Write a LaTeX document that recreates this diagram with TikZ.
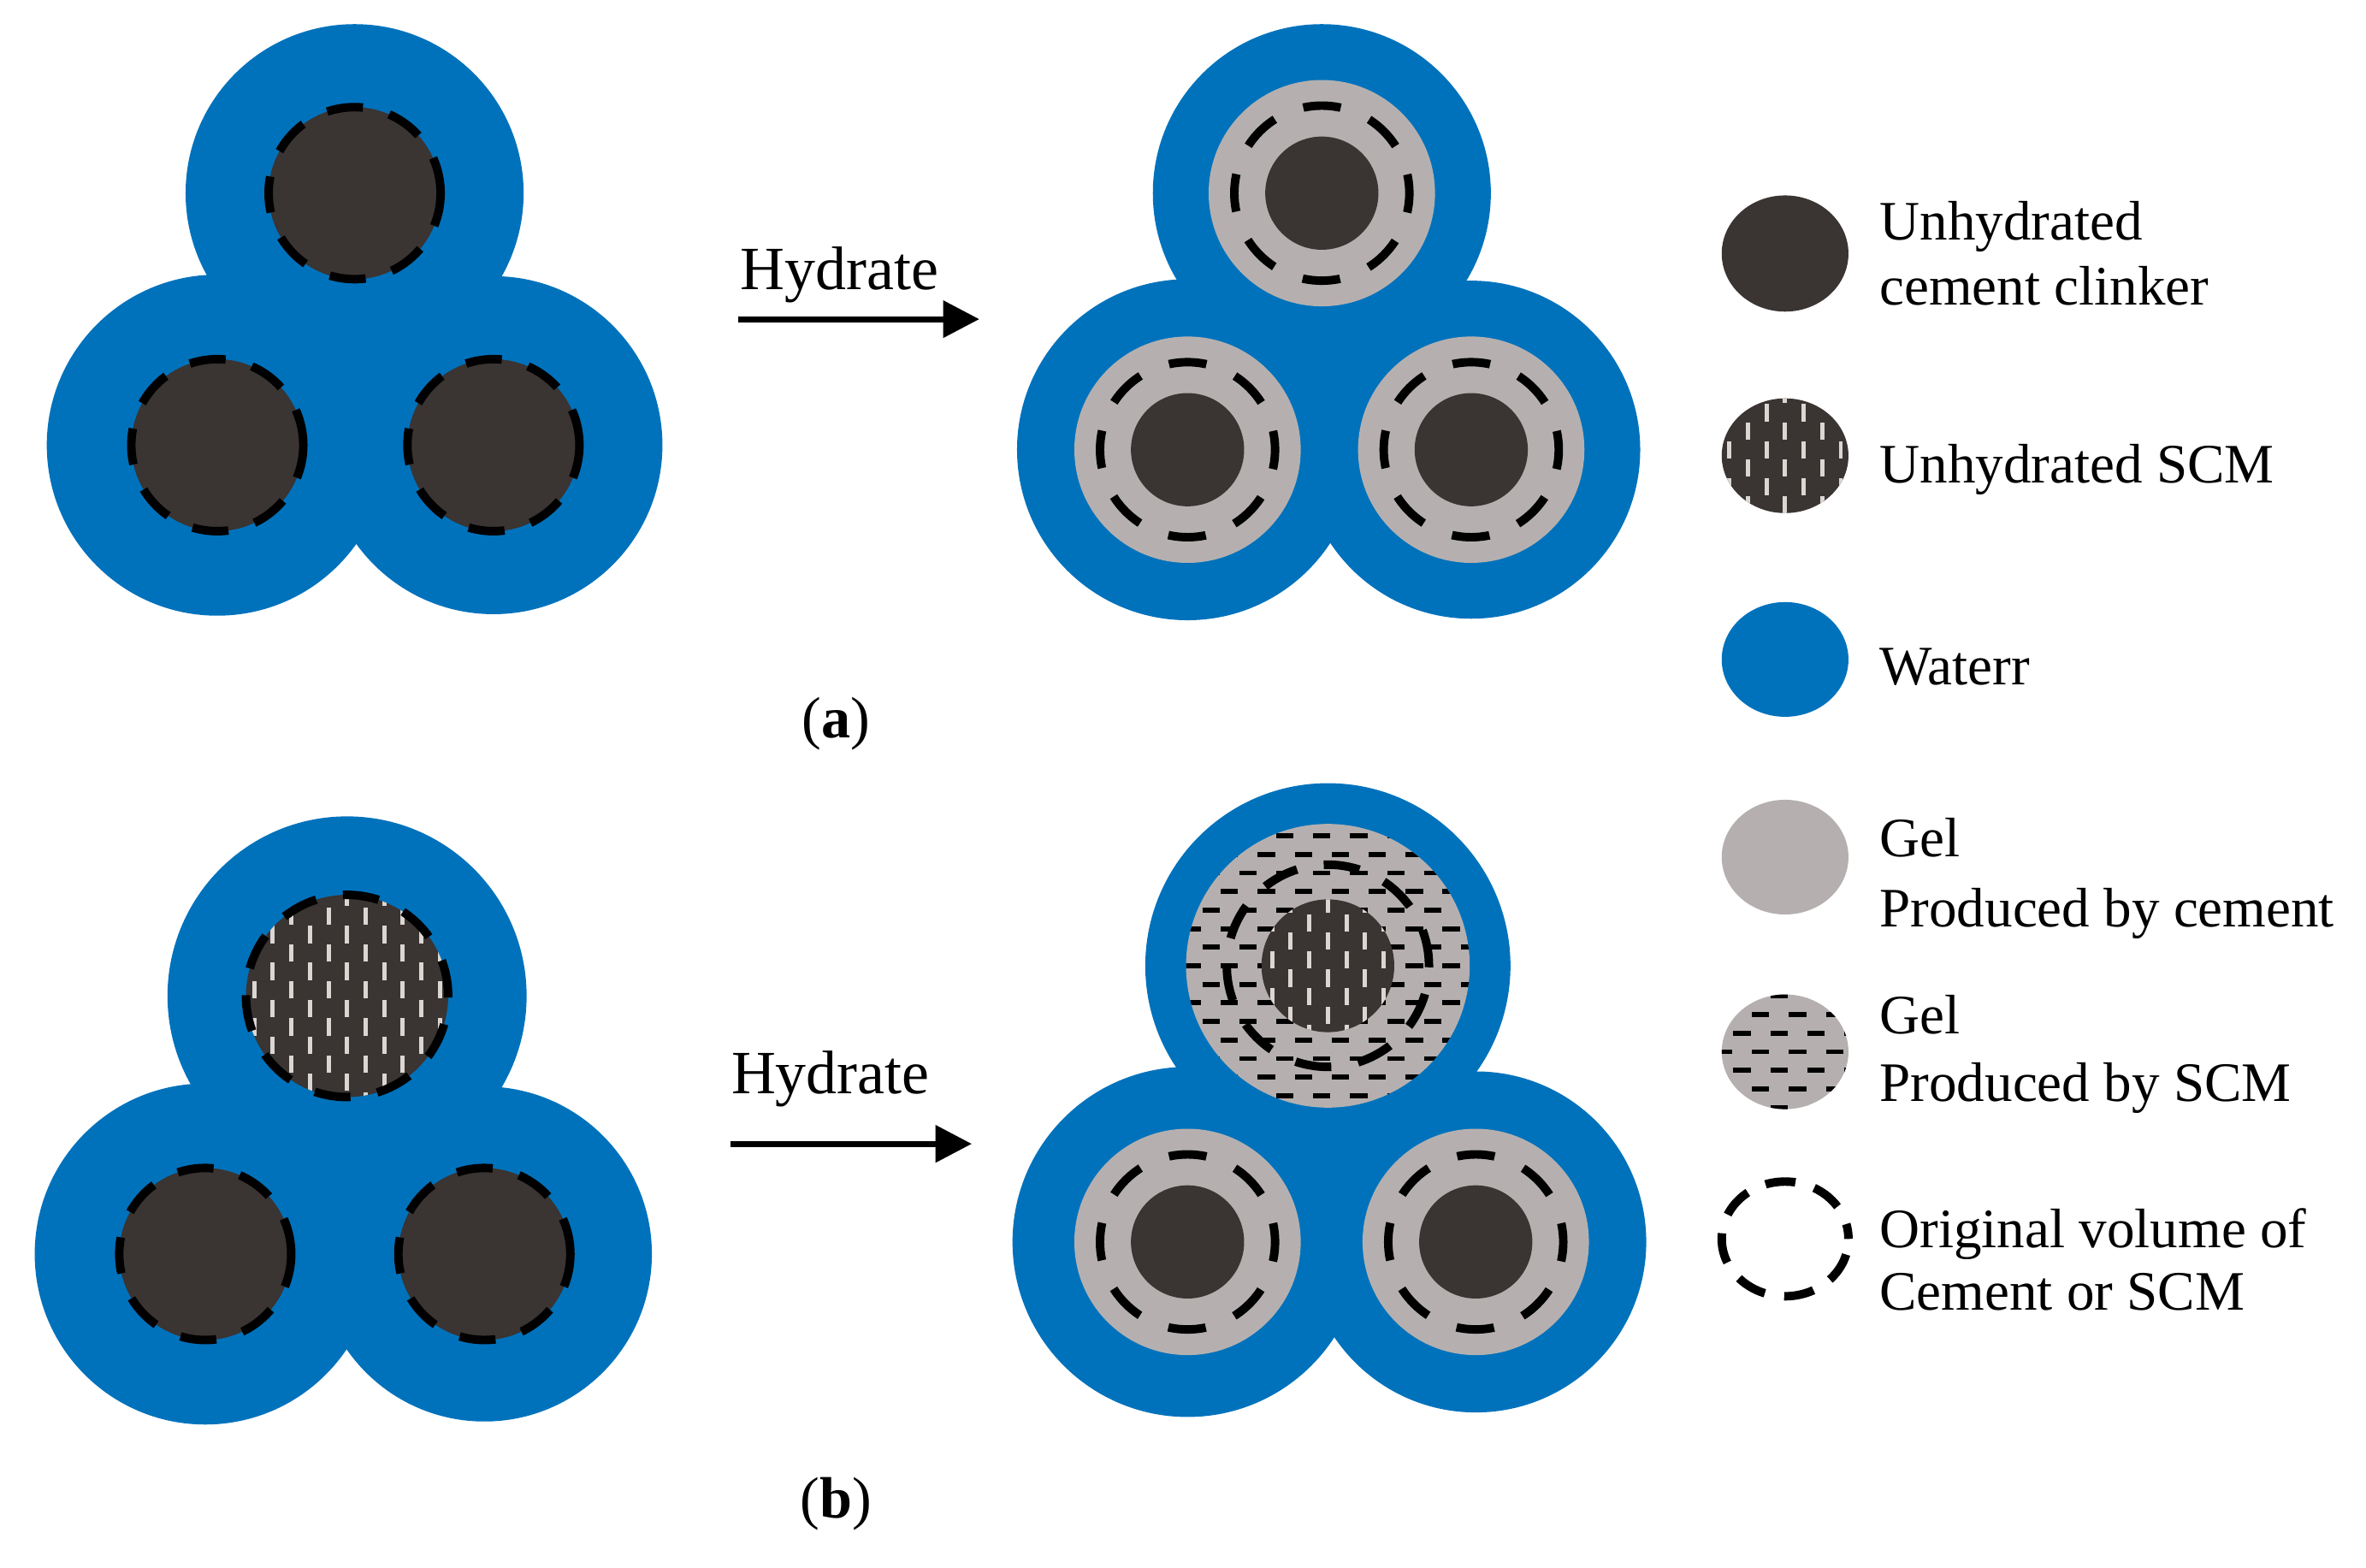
\documentclass[tikz,border=0pt]{standalone}
\usepackage{fontspec}
\setmainfont{Liberation Serif}
\usetikzlibrary{arrows.meta}

\definecolor{waterblue}{RGB}{0,114,188}
\definecolor{clinker}{RGB}{58,52,50}
\definecolor{gelgrey}{RGB}{181,176,175}
\definecolor{streak}{RGB}{218,214,210}

% SCM particle: dark fill with light vertical streaks
\newcommand{\scmgrain}[3]{%
  \begin{scope}[shift={(#1)}]
    \fill[clinker] (0,0) ellipse ({#2} and {#3});
    \clip (0,0) ellipse ({#2} and {#3});
    \foreach \i [evaluate=\i as \ph using {mod(abs(\i),2)*0.1225}] in {-9,...,9}
      \draw[streak, line width=0.8pt, dash pattern=on 0.115cm off 0.13cm, dash phase=\ph cm]
        (\i*0.123,1.2) -- (\i*0.123,-1.2);
  \end{scope}}

% gel from SCM: grey fill with short black horizontal streaks
\newcommand{\gelscm}[3]{%
  \begin{scope}[shift={(#1)}]
    \fill[gelgrey] (0,0) ellipse ({#2} and {#3});
    \clip (0,0) ellipse ({#2} and {#3});
    \foreach \j [evaluate=\j as \ph using {mod(abs(\j),2)*0.1225}] in {-9,...,9}
      \draw[black, line width=0.95pt, dash pattern=on 0.115cm off 0.13cm, dash phase=\ph cm]
        (-1.2,\j*0.123) -- (1.2,\j*0.123);
  \end{scope}}

\begin{document}
\begin{tikzpicture}[
    grain/.style={fill=clinker},
    gel/.style={fill=gelgrey},
    water/.style={fill=waterblue},
    origvol/.style={line width=1.6pt, dash pattern=on 0.24cm off 0.18cm},
    hydarrow/.style={line width=1.1pt, -{Triangle[length=0.24cm,width=0.24cm]}},
    hydtext/.style={font=\fontsize{11.6}{14}\selectfont, anchor=base west, inner sep=0pt},
    legtext/.style={font=\fontsize{10.5}{12}\selectfont, anchor=base west, inner sep=0pt},
    caption/.style={font=\fontsize{11}{13}\selectfont, anchor=base, inner sep=0pt}]

    \useasboundingbox (0,0) rectangle (15.68,-10.39);

    % (a) before / after
    \coordinate (a1) at (2.35,-1.28);
    \coordinate (a2) at (1.44,-2.95);
    \coordinate (a3) at (3.27,-2.95);
    \coordinate (a4) at (8.76,-1.28);
    \coordinate (a5) at (7.87,-2.98);
    \coordinate (a6) at (9.75,-2.98);

    % (b) before / after
    \coordinate (b1) at (2.30,-6.60);
    \coordinate (b2) at (1.36,-8.31);
    \coordinate (b3) at (3.21,-8.31);
    \coordinate (b4) at (8.80,-6.40);
    \coordinate (b5) at (7.87,-8.23);
    \coordinate (b6) at (9.78,-8.23);

    % legend symbols
    \coordinate (l1) at (11.83,-1.68);
    \coordinate (l2) at (11.83,-3.02);
    \coordinate (l3) at (11.83,-4.37);
    \coordinate (l4) at (11.83,-5.68);
    \coordinate (l5) at (11.83,-6.97);
    \coordinate (l6) at (11.83,-8.21);

    \foreach \p/\r in {a1/1.12, a2/1.13, a3/1.12, a4/1.12, a5/1.13, a6/1.12,
                       b1/1.19, b2/1.13, b3/1.11, b4/1.21, b5/1.16, b6/1.13}
        \fill[water] (\p) circle (\r);

    % unhydrated clinker
    \foreach \p in {a1,a2,a3,b2,b3} {
        \fill[grain] (\p) circle (0.57);
        \draw[origvol] (\p) circle (0.57);
    }

    % unhydrated SCM
    \scmgrain{b1}{0.67}{0.67}
    \draw[origvol] (b1) circle (0.67);

    % hydrated clinker
    \foreach \p in {a4,a5,a6,b5,b6} {
        \fill[gel] (\p) circle (0.75);
        \fill[grain] (\p) circle (0.375);
        \draw[origvol, dash pattern=on 0.25cm off 0.205cm, dash phase=0.125cm] (\p) circle (0.58);
    }

    % hydrated SCM
    \gelscm{b4}{0.94}{0.94}
    \scmgrain{b4}{0.44}{0.44}
    \draw[origvol] (b4) circle (0.67);

    % arrows
    \coordinate (s1) at (4.89,-2.115);
    \coordinate (e1) at (6.49,-2.115);
    \coordinate (s2) at (4.84,-7.58);
    \coordinate (e2) at (6.44,-7.58);
    \draw[hydarrow] (s1) -- (e1);
    \draw[hydarrow] (s2) -- (e2);
    \node[hydtext] (hyda) at (4.90,-1.92) {Hydrate};
    \node[hydtext] (hydb) at (4.84,-7.25) {Hydrate};

    \node[caption] (capa) at (5.54,-4.89) {(\textbf{a})};
    \node[caption] (capb) at (5.54,-10.06) {(\textbf{b})};

    % legend
    \fill[grain] (l1) ellipse (0.42 and 0.385);
    \scmgrain{l2}{0.42}{0.38}
    \fill[water] (l3) ellipse (0.42 and 0.38);
    \fill[gel] (l4) ellipse (0.42 and 0.38);
    \gelscm{l5}{0.42}{0.38}
    \draw[origvol, dash pattern=on 0.2cm off 0.13cm, dash phase=0.1cm] (l6) ellipse (0.42 and 0.38);

    \node[legtext] (t1) at (12.45,-1.59) {Unhydrated};
    \node[legtext] (t1b) at (12.45,-2.02) {cement clinker};
    \node[legtext] (t2) at (12.45,-3.20) {Unhydrated SCM};
    \node[legtext] (t3) at (12.45,-4.54) {Waterr};
    \node[legtext] (t4) at (12.45,-5.68) {Gel};
    \node[legtext] (t4b) at (12.45,-6.14) {Produced by cement};
    \node[legtext] (t5) at (12.45,-6.85) {Gel};
    \node[legtext] (t5b) at (12.45,-7.30) {Produced by SCM};
    \node[legtext] (t6) at (12.45,-8.27) {Original volume of};
    \node[legtext] (t6b) at (12.45,-8.68) {Cement or SCM};
\end{tikzpicture}
\end{document}
